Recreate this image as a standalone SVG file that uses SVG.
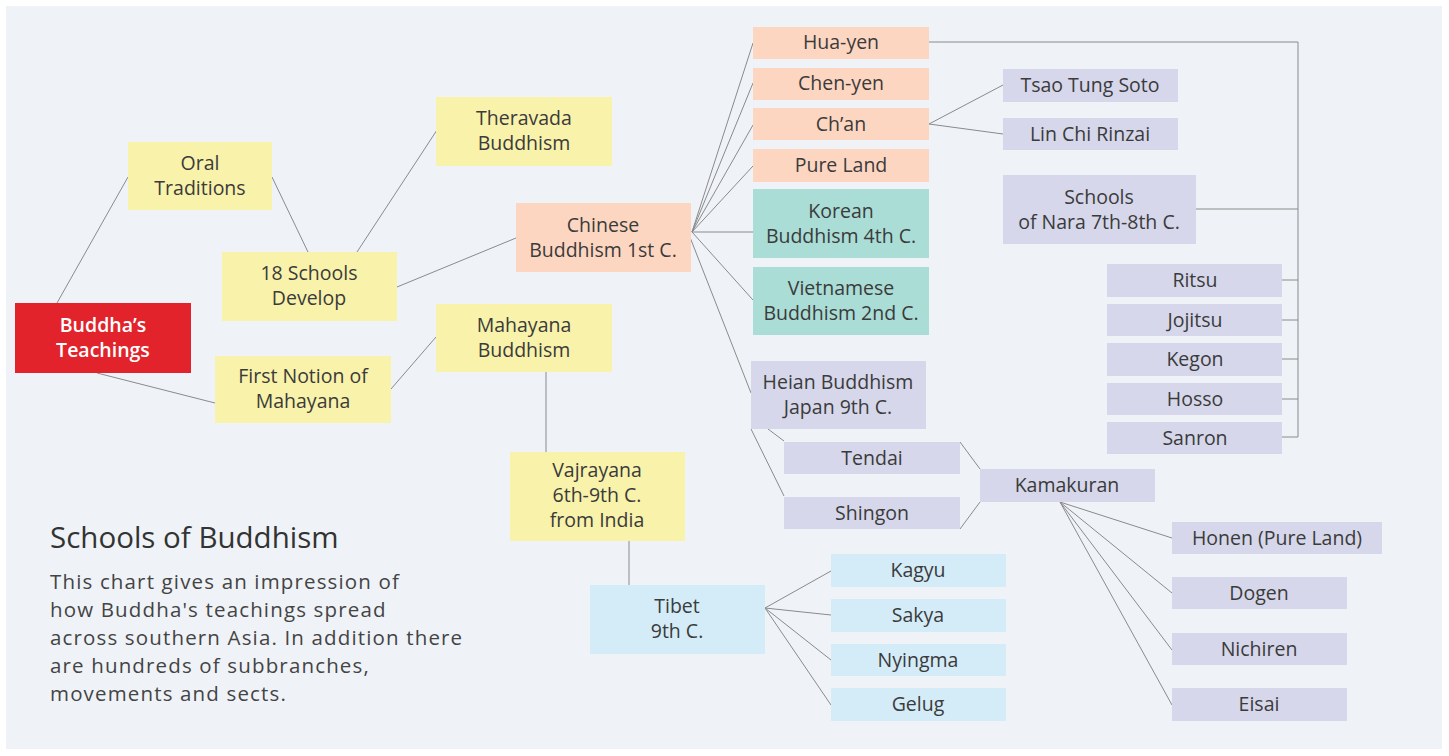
<svg xmlns="http://www.w3.org/2000/svg" width="1449" height="756" viewBox="0 0 1449 756">
<style>
text{font-family:"Open Sans",Lato,"Liberation Sans",sans-serif;font-size:19.5px;fill:#3b3b3b;text-anchor:middle}
.y{fill:#f8f2aa}.s{fill:#fdd6c1}.t{fill:#a9ddd6}.l{fill:#d6d7ea}.b{fill:#d4ecf8}.r{fill:#e2232b}
.c line,.c polyline{stroke:#8a8a8a;stroke-width:1;fill:none}
.w{fill:#ffffff;font-weight:600}
.h{text-anchor:start;font-size:29.5px;fill:#333}
.p{text-anchor:start;font-size:20.5px;letter-spacing:1.15px;fill:#444}
</style>
<rect width="1449" height="756" fill="#ffffff"/>
<rect x="6" y="6" width="1436" height="743" fill="#eff3f8"/>
<g class="c" id="connectors">
<line x1="57" y1="303" x2="128" y2="177"/>
<line x1="272" y1="177" x2="308" y2="252"/>
<line x1="357" y1="252" x2="437" y2="130"/>
<line x1="397" y1="287" x2="516" y2="238"/>
<line x1="97" y1="373" x2="215" y2="403"/>
<line x1="391" y1="389" x2="436" y2="337"/>
<line x1="546" y1="372" x2="546" y2="452"/>
<line x1="629" y1="541" x2="629" y2="585"/>
<line x1="692" y1="232" x2="753" y2="43"/>
<line x1="692" y1="232" x2="753" y2="83"/>
<line x1="692" y1="232" x2="753" y2="125"/>
<line x1="692" y1="232" x2="753" y2="166"/>
<line x1="692" y1="232" x2="753" y2="232"/>
<line x1="692" y1="232" x2="753" y2="300"/>
<line x1="686" y1="227" x2="751" y2="393"/>
<line x1="929" y1="124" x2="1003" y2="85"/>
<line x1="929" y1="124" x2="1003" y2="134"/>
<polyline points="929,42 1298,42 1298,437 1282,437"/>
<line x1="1196" y1="209" x2="1298" y2="209"/>
<line x1="1282" y1="280" x2="1298" y2="280"/>
<line x1="1282" y1="320" x2="1298" y2="320"/>
<line x1="1282" y1="359" x2="1298" y2="359"/>
<line x1="1282" y1="399" x2="1298" y2="399"/>
<line x1="768" y1="429" x2="784" y2="441"/>
<line x1="751" y1="429" x2="784" y2="496"/>
<line x1="960" y1="442" x2="980" y2="469"/>
<line x1="960" y1="529" x2="980" y2="502"/>
<line x1="1060" y1="502" x2="1172" y2="538"/>
<line x1="1060" y1="502" x2="1172" y2="593"/>
<line x1="1060" y1="502" x2="1172" y2="650"/>
<line x1="1060" y1="502" x2="1172" y2="705"/>
<line x1="765" y1="608" x2="831" y2="571"/>
<line x1="765" y1="608" x2="831" y2="615"/>
<line x1="765" y1="608" x2="831" y2="660"/>
<line x1="765" y1="608" x2="831" y2="705"/>
</g>
<g id="buddha"><rect class="r" x="15" y="303" width="176" height="70"/><text class="w" x="103" y="332">Buddha’s</text><text class="w" x="103" y="357">Teachings</text></g>
<g id="oral"><rect class="y" x="128" y="142" width="144" height="68"/><text x="200" y="170">Oral</text><text x="200" y="195">Traditions</text></g>
<g id="schools18"><rect class="y" x="222" y="252" width="175" height="69"/><text x="309" y="280">18 Schools</text><text x="309" y="305">Develop</text></g>
<g id="firstnotion"><rect class="y" x="215" y="356" width="176" height="67"/><text x="303" y="383">First Notion of</text><text x="303" y="408">Mahayana</text></g>
<g id="theravada"><rect class="y" x="436" y="97" width="176" height="69"/><text x="524" y="125">Theravada</text><text x="524" y="150">Buddhism</text></g>
<g id="mahayana"><rect class="y" x="436" y="304" width="176" height="68"/><text x="524" y="332">Mahayana</text><text x="524" y="357">Buddhism</text></g>
<g id="vajrayana"><rect class="y" x="510" y="452" width="175" height="89"/><text x="597" y="477">Vajrayana</text><text x="597" y="502">6th-9th C.</text><text x="597" y="527">from India</text></g>
<g id="tibet"><rect class="b" x="590" y="585" width="175" height="69"/><text x="677" y="613">Tibet</text><text x="677" y="638">9th C.</text></g>
<g id="kagyu"><rect class="b" x="831" y="554" width="175" height="33"/><text x="918" y="577">Kagyu</text></g>
<g id="sakya"><rect class="b" x="831" y="599" width="175" height="33"/><text x="918" y="622">Sakya</text></g>
<g id="nyingma"><rect class="b" x="831" y="644" width="175" height="32"/><text x="918" y="667">Nyingma</text></g>
<g id="gelug"><rect class="b" x="831" y="688" width="175" height="33"/><text x="918" y="711">Gelug</text></g>
<g id="chinese"><rect class="s" x="516" y="203" width="175" height="69"/><text x="603" y="232">Chinese</text><text x="603" y="257">Buddhism 1st C.</text></g>
<g id="huayen"><rect class="s" x="753" y="27" width="176" height="32"/><text x="841" y="49">Hua-yen</text></g>
<g id="chenyen"><rect class="s" x="753" y="68" width="176" height="32"/><text x="841" y="90">Chen-yen</text></g>
<g id="chan"><rect class="s" x="753" y="108" width="176" height="32"/><text x="841" y="131">Ch’an</text></g>
<g id="pureland"><rect class="s" x="753" y="149" width="176" height="33"/><text x="841" y="172">Pure Land</text></g>
<g id="korean"><rect class="t" x="753" y="189" width="176" height="69"/><text x="841" y="218">Korean</text><text x="841" y="243">Buddhism 4th C.</text></g>
<g id="vietnamese"><rect class="t" x="753" y="267" width="176" height="68"/><text x="841" y="295">Vietnamese</text><text x="841" y="320">Buddhism 2nd C.</text></g>
<g id="tsao"><rect class="l" x="1003" y="69" width="175" height="33"/><text x="1090" y="92">Tsao Tung Soto</text></g>
<g id="linchi"><rect class="l" x="1003" y="118" width="175" height="32"/><text x="1090" y="141">Lin Chi Rinzai</text></g>
<g id="nara"><rect class="l" x="1003" y="175" width="193" height="69"/><text x="1099" y="204">Schools</text><text x="1099" y="229">of Nara 7th-8th C.</text></g>
<g id="ritsu"><rect class="l" x="1107" y="264" width="175" height="33"/><text x="1195" y="287">Ritsu</text></g>
<g id="jojitsu"><rect class="l" x="1107" y="304" width="175" height="32"/><text x="1195" y="327">Jojitsu</text></g>
<g id="kegon"><rect class="l" x="1107" y="343" width="175" height="33"/><text x="1195" y="366">Kegon</text></g>
<g id="hosso"><rect class="l" x="1107" y="383" width="175" height="32"/><text x="1195" y="406">Hosso</text></g>
<g id="sanron"><rect class="l" x="1107" y="422" width="175" height="32"/><text x="1195" y="445">Sanron</text></g>
<g id="heian"><rect class="l" x="751" y="361" width="175" height="68"/><text x="838" y="389">Heian Buddhism</text><text x="838" y="414">Japan 9th C.</text></g>
<g id="tendai"><rect class="l" x="784" y="442" width="176" height="32"/><text x="872" y="465">Tendai</text></g>
<g id="shingon"><rect class="l" x="784" y="497" width="176" height="32"/><text x="872" y="520">Shingon</text></g>
<g id="kamakuran"><rect class="l" x="980" y="469" width="175" height="33"/><text x="1067" y="492">Kamakuran</text></g>
<g id="honen"><rect class="l" x="1172" y="522" width="210" height="32"/><text x="1277" y="545">Honen (Pure Land)</text></g>
<g id="dogen"><rect class="l" x="1172" y="577" width="175" height="32"/><text x="1259" y="600">Dogen</text></g>
<g id="nichiren"><rect class="l" x="1172" y="633" width="175" height="32"/><text x="1259" y="656">Nichiren</text></g>
<g id="eisai"><rect class="l" x="1172" y="688" width="175" height="33"/><text x="1259" y="711">Eisai</text></g>
<g id="title"><text class="h" x="50" y="548">Schools of Buddhism</text>
<text class="p" x="50" y="589">This chart gives an impression of</text>
<text class="p" x="50" y="617">how Buddha's teachings spread</text>
<text class="p" x="50" y="645">across southern Asia. In addition there</text>
<text class="p" x="50" y="673">are hundreds of subbranches,</text>
<text class="p" x="50" y="701">movements and sects.</text></g>
</svg>
